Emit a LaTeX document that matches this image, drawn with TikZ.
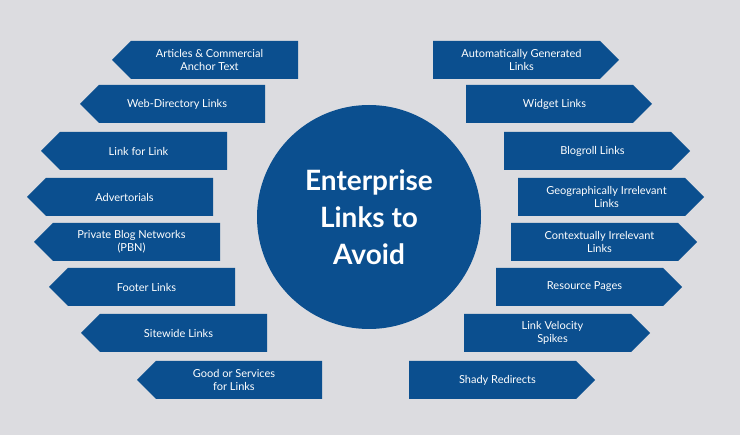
\documentclass[tikz,border=0pt]{standalone}
\usepackage{fontspec}
\setmainfont{Lato}
\definecolor{bg}{HTML}{DCDCE0}
\definecolor{blu}{HTML}{0B4F8F}
\newcommand{\larr}[6]{% name, tipx, rightx, cy, text
  \fill[blu] (#2,#4) -- (#2+19,#4-19) -- (#3,#4-19) -- (#3,#4+19) -- (#2+19,#4+19) -- cycle;
  \node[lbl] (#1) at ({(#2+9+#3)/2},#4) {#5};}
\newcommand{\rarr}[6]{% name, leftx, tipx, cy, text
  \fill[blu] (#2,#4-19) -- (#3-19,#4-19) -- (#3,#4) -- (#3-19,#4+19) -- (#2,#4+19) -- cycle;
  \node[lbl] (#1) at ({(#2+#3-9)/2},#4) {#5};}
\begin{document}
\begin{tikzpicture}[x=1pt,y=-1pt,lbl/.style={text=white,font=\fontsize{11}{13}\selectfont,align=center,inner sep=0pt}]
\fill[bg] (0,0) rectangle (740,435);
\useasboundingbox (0,0) rectangle (740,435);
\node[circle,fill=blu,minimum size=224pt,inner sep=0pt,text=white,align=center,font=\bfseries\fontsize{28}{37}\selectfont] (c) at (369,217) {Enterprise\\Links to\\Avoid};
\larr{l1}{112}{298}{60}{Articles \& Commercial\\Anchor Text}{}
\larr{l2}{80}{265}{104}{Web-Directory Links}{}
\larr{l3}{41}{227}{151}{Link for Link}{}
\larr{l4}{27}{213}{197}{Advertorials}{}
\larr{l5}{34}{220}{242}{Private Blog Networks\\(PBN)}{}
\larr{l6}{49}{235}{287}{Footer Links}{}
\larr{l7}{81}{267}{333}{Sitewide Links}{}
\larr{l8}{137}{322}{380}{Good or Services\\for Links}{}
\rarr{r1}{433}{619}{60}{Automatically Generated\\Links}{}
\rarr{r2}{466}{652}{104}{Widget Links}{}
\rarr{r3}{504}{690}{151}{Blogroll Links}{}
\rarr{r4}{518}{704}{197}{Geographically Irrelevant\\Links}{}
\rarr{r5}{511}{697}{242}{Contextually Irrelevant\\Links}{}
\rarr{r6}{496}{682}{287}{Resource Pages}{}
\rarr{r7}{464}{650}{333}{Link Velocity\\Spikes}{}
\rarr{r8}{409}{595}{380}{Shady Redirects}{}
\end{tikzpicture}
\end{document}
